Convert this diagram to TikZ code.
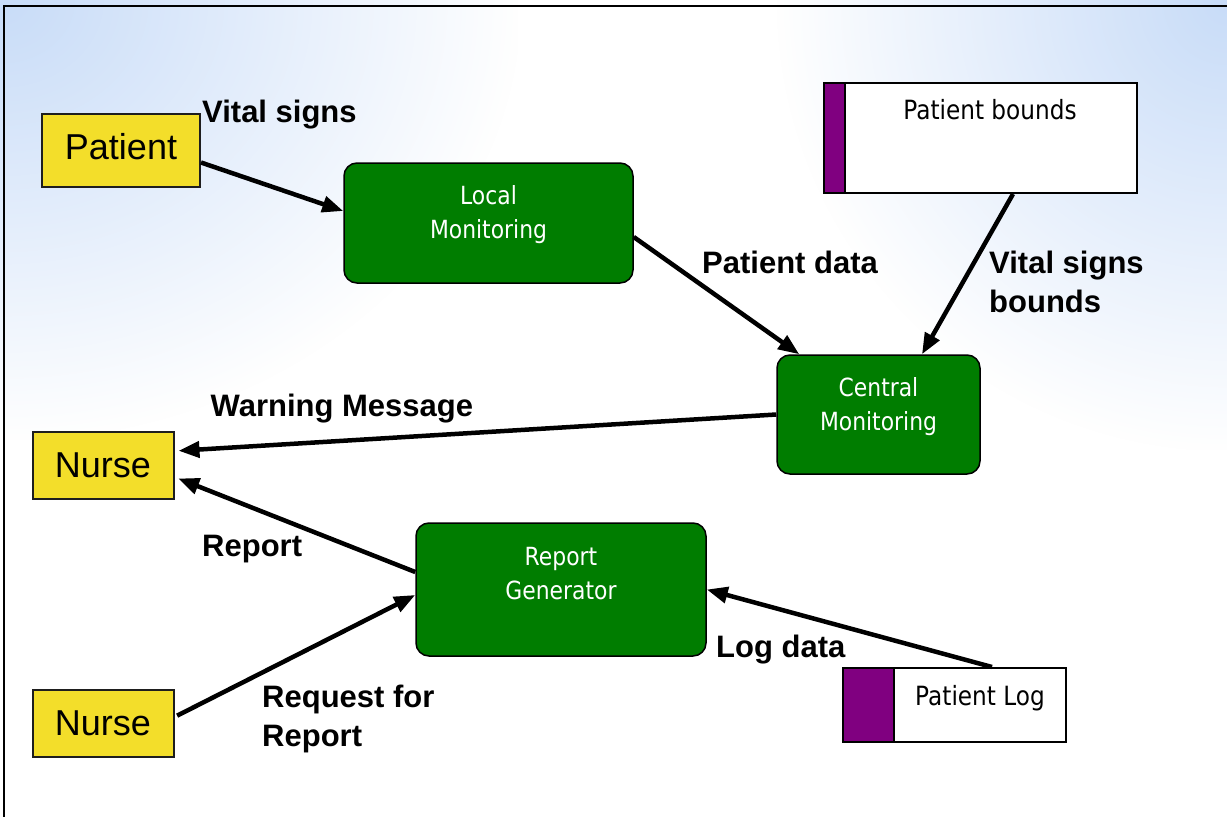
\documentclass[tikz,border=0pt]{standalone}
\usepackage{fontspec}
\setmainfont{Liberation Sans}
\newfontfamily\boxfont[FakeStretch=0.875]{DejaVu Sans}
\usetikzlibrary{arrows.meta,fadings}
\tikzfading[name=cornerfade, inner color=transparent!0, outer color=transparent!100]
\definecolor{bgblue}{RGB}{200,220,248}
\definecolor{boxyellow}{RGB}{243,222,42}
\definecolor{procgreen}{RGB}{0,125,0}
\definecolor{storepurple}{RGB}{128,0,128}
\definecolor{boxline}{RGB}{30,30,30}
\begin{document}
\begin{tikzpicture}[x=1pt,y=-1pt,
  ext/.style={draw=boxline, line width=2pt, fill=boxyellow, inner sep=0pt,
    font=\fontsize{36}{43}\selectfont},
  proc/.style={draw=black, line width=1.5pt, fill=procgreen, rounded corners=13pt},
  proctext/.style={text=white, align=center, inner sep=0pt, anchor=north,
    font=\boxfont\fontsize{25}{34}\selectfont},
  store/.style={draw=black, line width=2pt, fill=white},
  storetext/.style={inner sep=0pt, anchor=base, font=\boxfont\fontsize{26.5}{32}\selectfont},
  flow/.style={line width=4.5pt, -{Triangle[length=21pt,width=16pt]}},
  lbl/.style={inner sep=0pt, anchor=base west, font=\bfseries\fontsize{31}{39.5}\selectfont},
  lblm/.style={inner sep=0pt, anchor=north west, align=left, font=\bfseries\fontsize{31}{39.5}\selectfont}]
\useasboundingbox (0,0) rectangle (1227,817);
% background
\fill[white] (0,0) rectangle (1227,817);
\fill[bgblue, path fading=cornerfade] (-520,-440) rectangle (520,440);
\fill[bgblue, path fading=cornerfade] (777,-450) rectangle (1677,450);
% frame
\draw[line width=2pt] (4,817) -- (4,6) -- (1227,6);

% external entities
\node[ext, minimum width=158, minimum height=73, text depth=8pt] (patient) at (121,150.5) {Patient};
\node[ext, minimum width=141, minimum height=67] (nurseA) at (103,465) {Nurse};
\node[ext, minimum width=141, minimum height=67] (nurseB) at (103,723) {Nurse};

% processes
\node[proc, minimum width=289, minimum height=120] (local) at (488.5,223) {};
\node[proctext] (localtxt) at (488.5,185) {Local\\Monitoring};
\node[proc, minimum width=203, minimum height=119] (central) at (878.5,414.5) {};
\node[proctext] (centraltxt) at (878.5,377) {Central\\Monitoring};
\node[proc, minimum width=290, minimum height=133] (report) at (561,589.5) {};
\node[proctext] (reporttxt) at (561,547) {Report\\Generator};

% data stores
\node[store, minimum width=313, minimum height=110,
  path picture={\fill[storepurple] (path picture bounding box.north west) rectangle ([xshift=21pt]path picture bounding box.south west);
    \draw[line width=1.5pt] ([xshift=21pt]path picture bounding box.north west) -- ([xshift=21pt]path picture bounding box.south west);}]
  (pbounds) at (980.5,138) {};
\node[storetext] (pboundstxt) at (990,119.3) {Patient bounds};
\node[store, minimum width=223, minimum height=74,
  path picture={\fill[storepurple] (path picture bounding box.north west) rectangle ([xshift=51pt]path picture bounding box.south west);
    \draw[line width=1.5pt] ([xshift=51pt]path picture bounding box.north west) -- ([xshift=51pt]path picture bounding box.south west);}]
  (plog) at (954.5,705) {};
\node[storetext] (plogtxt) at (980,705) {Patient Log};

% flows
\draw[flow] ([yshift=-12pt]patient.east) -- ([yshift=12pt]local.west);
\draw[flow] ([yshift=-14pt]local.east) -- ([xshift=23pt]central.north west);
\draw[flow] ([xshift=32.5pt]pbounds.south) -- ([xshift=43.5pt]central.north);
\draw[flow, shorten >=4pt] (central.west) -- ([yshift=14pt]nurseA.east);
\draw[flow, shorten >=4pt] ([yshift=17.5pt]report.west) -- ([yshift=-12pt]nurseA.east);
\draw[flow, shorten <=3pt] ([yshift=6pt]nurseB.east) -- ([yshift=-5.5pt]report.west);
\draw[flow] ([xshift=37.5pt]plog.north) -- (report.east);

% labels
\node[lbl] (l1) at (202,122) {Vital signs};
\node[lbl] (l2) at (702,273) {Patient data};
\node[lblm] (l3) at (989,250.8) {Vital signs\\bounds};
\node[lbl] (l4) at (210.5,416.7) {Warning Message};
\node[lbl] (l5) at (202,556) {Report};
\node[lblm] (l6) at (262,684.8) {Request for\\Report};
\node[lbl] (l7) at (716,657) {Log data};
\end{tikzpicture}
\end{document}
